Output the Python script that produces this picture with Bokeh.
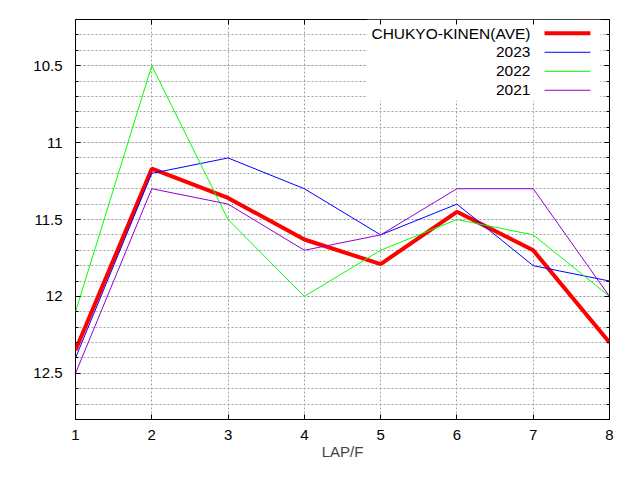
from bokeh.plotting import figure
from bokeh.models import (Range1d, LinearAxis, SingleIntervalTicker, FixedTicker,
                          NumeralTickFormatter, CustomJSTickFormatter, BoxAnnotation,
                          Label, Arrow)
from bokeh.embed import file_html
from bokeh.resources import INLINE

# data (seconds per furlong, lap 1..8)
laps = [1, 2, 3, 4, 5, 6, 7, 8]
ave = [12.35, 11.17, 11.36, 11.63, 11.79, 11.45, 11.70, 12.30]
y2023 = [12.4, 11.2, 11.1, 11.3, 11.6, 11.4, 11.8, 11.9]
y2022 = [12.1, 10.5, 11.5, 12.0, 11.7, 11.5, 11.6, 12.0]
y2021 = [12.5, 11.3, 11.4, 11.7, 11.6, 11.3, 11.3, 12.0]
names = ["CHUKYO-KINEN(AVE)", "2023", "2022", "2021"]
colors = ["#ff0000", "#0000ff", "#00ff00", "#9400d3"]
widths = [4, 1, 1, 1]

FONT = "Liberation Sans"
FS = "15px"
GRID = "#a0a0a0"

p = figure(width=624, height=464, output_backend="svg", toolbar_location=None,
           x_range=Range1d(1, 8), y_range=Range1d(12.8, 10.2),
           min_border_left=75, min_border_right=15, min_border_top=19, min_border_bottom=45)
p.outline_line_color = "black"
p.outline_line_width = 1
p.background_fill_color = "white"

yticker = SingleIntervalTicker(interval=0.5, num_minor_ticks=5)
xticker = FixedTicker(ticks=laps, minor_ticks=[])

p.xaxis.ticker = xticker
p.yaxis.ticker = yticker
p.yaxis.formatter = NumeralTickFormatter(format="0.[0]")
p.xaxis.axis_label = "LAP/F"

for ax in p.xaxis + p.yaxis:
    ax.axis_line_color = None
    ax.major_tick_in = 5
    ax.major_tick_out = 0
    ax.minor_tick_in = 3
    ax.minor_tick_out = 0
    ax.major_label_text_font = FONT
    ax.major_label_text_font_size = FS
    ax.major_label_text_color = "black"
    ax.axis_label_text_font = FONT
    ax.axis_label_text_font_size = FS
    ax.axis_label_text_font_style = "normal"
p.xaxis.major_label_standoff = 10
p.xaxis.axis_label_standoff = 0
p.yaxis.major_label_standoff = 13

# mirrored axes (ticks only, no labels)
blank = CustomJSTickFormatter(code="return ''")
top = LinearAxis(ticker=xticker, formatter=blank, axis_line_color=None,
                 major_tick_in=5, major_tick_out=0, major_label_standoff=0)
right = LinearAxis(ticker=yticker, formatter=blank, axis_line_color=None,
                   major_tick_in=5, major_tick_out=0, minor_tick_in=3, minor_tick_out=0,
                   major_label_standoff=0)
p.add_layout(top, "above")
p.add_layout(right, "right")

p.xgrid.grid_line_color = GRID
p.xgrid.grid_line_dash = "2 2"
p.ygrid.grid_line_color = GRID
p.ygrid.grid_line_dash = "2 2"
p.ygrid.minor_grid_line_color = GRID
p.ygrid.minor_grid_line_dash = "2 2"
p.xgrid.level = "image"
p.ygrid.level = "image"

# white key box over the grid
p.add_layout(BoxAnnotation(left=4.824, right=7.882, top=10.2, bottom=10.727,
                           fill_color="white", fill_alpha=1, line_color=None,
                           level="underlay"))

series = [ave, y2023, y2022, y2021]
for vals, c, w in zip(series, colors, widths):
    p.line(laps, vals, line_color=c, line_width=w)

# key: label then sample line, gnuplot style
key_rows = [10.290, 10.413, 10.537, 10.660]
for name, c, w, ky in zip(names, colors, widths, key_rows):
    p.add_layout(Label(x=6.964, y=ky, text=name, text_align="right", text_baseline="middle",
                       text_font=FONT, text_font_size="15.5px", text_color="black"))
    p.add_layout(Arrow(end=None, x_start=7.148, y_start=ky, x_end=7.750, y_end=ky,
                       line_color=c, line_width=w))

open("out.html", "w").write(file_html(p, INLINE))
